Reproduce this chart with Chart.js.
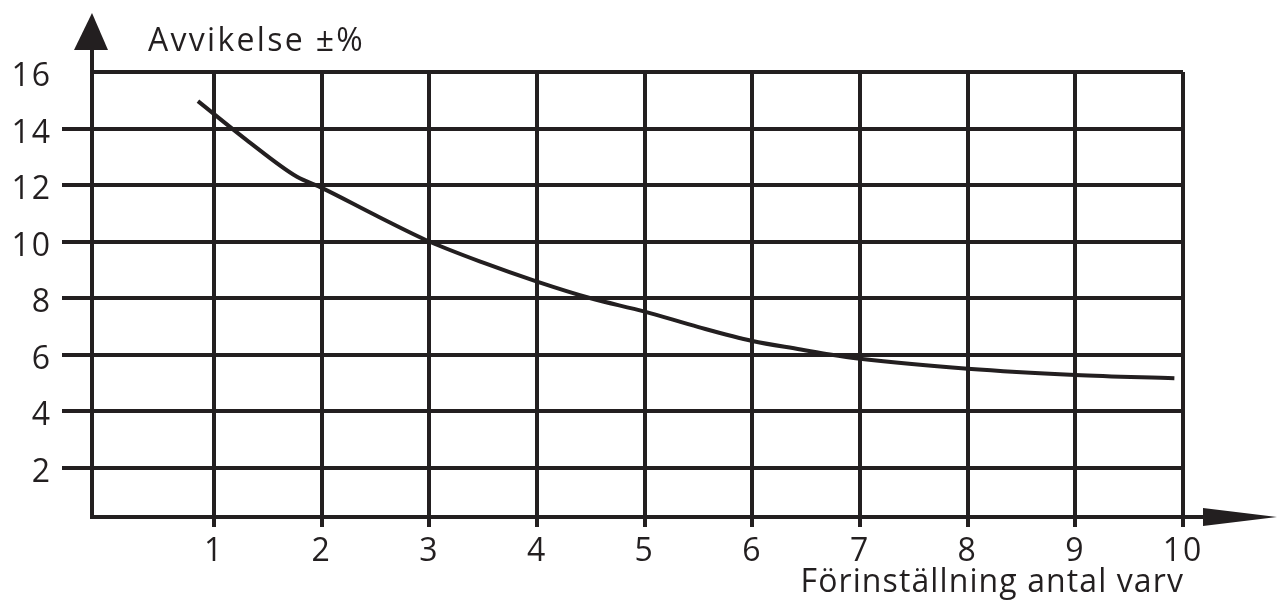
<!DOCTYPE html>
<html>
<head>
<meta charset="utf-8">
<script src="https://cdn.jsdelivr.net/npm/chart.js@4"></script>
<style>
html,body{margin:0;padding:0;background:#fff;}
#wrap{width:1277px;height:603px;position:relative;}
</style>
</head>
<body>
<div id="wrap"><canvas id="c" width="1277" height="603"></canvas></div>
<script>
const xTicks = [1,2,3,4,5,6,7,8,9,10];
const yTicks = [2,4,6,8,10,12,14,16];
const curveX = [0.85, 1.3, 1.77, 2, 2.5, 3, 3.5, 4, 4.49, 5, 5.5, 6, 6.45, 6.72, 7, 8, 9, 9.92];
const curveY = [14.97, 13.6, 12.29, 11.9, 10.93, 10.0, 9.25, 8.58, 8.0, 7.52, 6.97, 6.48, 6.18, 6.0, 5.85, 5.5, 5.28, 5.16];
const yTitle = 'Avvikelse ±%';
const xTitle = 'Förinställning antal varv';

const INK = '#231f20';
const FONT = '"Open Sans", sans-serif';

const decor = {
  id: 'decor',
  beforeDraw(chart) {
    chart.ctx.letterSpacing = '2px';
  },
  afterDraw(chart) {
    const c = chart.ctx, a = chart.chartArea;
    c.save();
    c.fillStyle = INK; c.strokeStyle = INK; c.lineWidth = 4;
    // y axis extension + arrow
    c.beginPath(); c.moveTo(a.left, a.top); c.lineTo(a.left, 48); c.stroke();
    c.beginPath(); c.moveTo(a.left - 18, 50); c.lineTo(a.left + 16, 50); c.lineTo(a.left, 13); c.closePath(); c.fill();
    // x axis extension + arrow
    c.beginPath(); c.moveTo(a.right, a.bottom); c.lineTo(1206, a.bottom); c.stroke();
    c.beginPath(); c.moveTo(1203, a.bottom - 9); c.lineTo(1203, a.bottom + 9); c.lineTo(1277, a.bottom); c.closePath(); c.fill();
    // titles
    c.font = '32px ' + FONT;
    c.textBaseline = 'alphabetic';
    c.textAlign = 'left';
    c.letterSpacing = '2.3px';
    c.fillText(yTitle, 148, 51);
    c.textAlign = 'right';
    c.letterSpacing = '1.1px';
    c.fillText(xTitle, 1184, 592);
    c.restore();
  }
};

new Chart(document.getElementById('c'), {
  type: 'line',
  data: {
    datasets: [{
      data: curveX.map((x, i) => ({x: x, y: curveY[i]})),
      borderColor: INK,
      borderWidth: 4,
      pointRadius: 0,
      fill: false,
      cubicInterpolationMode: 'monotone'
    }]
  },
  options: {
    responsive: false,
    animation: false,
    events: [],
    layout: {padding: {top: 72, right: 94, left: 0, bottom: 0}},
    plugins: {legend: {display: false}, tooltip: {enabled: false}, title: {display: false}},
    scales: {
      x: {
        type: 'linear',
        min: -0.134, max: 10,
        afterBuildTicks: s => { s.ticks = xTicks.map(v => ({value: v})); },
        afterFit: s => { s.height = 86; },
        grid: {color: INK, lineWidth: 4, tickLength: 10, drawTicks: true, tickColor: INK},
        border: {display: true, color: INK, width: 4},
        ticks: {color: INK, font: {family: FONT, size: 32}, padding: 6, maxRotation: 0, autoSkip: false}
      },
      y: {
        type: 'linear',
        min: 0.25, max: 16,
        afterBuildTicks: s => { s.ticks = yTicks.map(v => ({value: v})); },
        afterFit: s => { s.width = 92; },
        grid: {color: INK, lineWidth: 4, tickLength: 30, drawTicks: true,
               tickColor: ctx => (ctx.tick && ctx.tick.value === 16) ? 'rgba(0,0,0,0)' : INK},
        border: {display: true, color: INK, width: 4},
        ticks: {color: INK, font: {family: FONT, size: 32}, padding: 10, labelOffset: 5, autoSkip: false}
      }
    }
  },
  plugins: [decor]
});
</script>
</body>
</html>
